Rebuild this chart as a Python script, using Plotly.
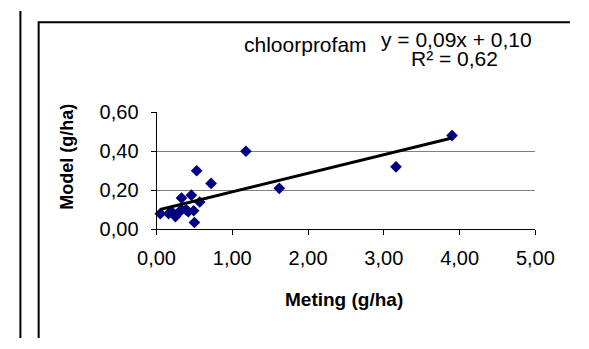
import plotly.graph_objects as go

W, H = 589, 349

# data
meting = [0.05, 0.16, 0.20, 0.25, 0.30, 0.33, 0.33, 0.39, 0.42, 0.46, 0.49, 0.50, 0.53, 0.57, 0.72, 1.18, 1.62, 3.16, 3.90]
model = [0.08, 0.08, 0.09, 0.065, 0.09, 0.10, 0.16, 0.10, 0.09, 0.175, 0.095, 0.035, 0.30, 0.14, 0.235, 0.40, 0.21, 0.32, 0.48]
trend_slope = 0.095
trend_intercept = 0.097
x_ticks = [0, 1, 2, 3, 4, 5]
x_ticklabels = ["0,00", "1,00", "2,00", "3,00", "4,00", "5,00"]
y_ticks = [0, 0.2, 0.4, 0.6]
y_ticklabels = ["0,00", "0,20", "0,40", "0,60"]

FONT = "Liberation Sans, Arial, sans-serif"

def px(x):
    return x / W

def py(y):
    return 1 - y / H

fig = go.Figure()
fig.add_trace(go.Scatter(
    x=meting, y=model, mode="markers",
    marker=dict(symbol="diamond", size=9, color="#000080", line=dict(width=0)),
    cliponaxis=False, showlegend=False,
))
tx = [min(meting), max(meting)]
fig.add_trace(go.Scatter(
    x=tx, y=[trend_slope * v + trend_intercept for v in tx], mode="lines",
    line=dict(color="black", width=3), cliponaxis=False, showlegend=False,
))

fig.update_layout(
    width=W, height=H, margin=dict(l=0, r=0, t=0, b=0),
    paper_bgcolor="white", plot_bgcolor="white",
    font=dict(family=FONT, size=20, color="black"),
    xaxis=dict(
        domain=[px(147), px(552)], range=[0, 5], tickvals=x_ticks, ticktext=x_ticklabels,
        showgrid=False, zeroline=False, showline=True, linecolor="black", linewidth=1,
        ticks="outside", ticklen=5, tickcolor="black", tickwidth=1,
        tickfont=dict(size=20), ticklabelstandoff=6,
    ),
    yaxis=dict(
        domain=[py(233), py(108)], range=[0, 0.6], tickvals=y_ticks, ticktext=y_ticklabels,
        showgrid=True, gridcolor="#808080", gridwidth=1, zeroline=False,
        showline=True, linecolor="black", linewidth=1,
        ticks="outside", ticklen=5, tickcolor="black", tickwidth=1,
        tickfont=dict(size=20), ticklabelstandoff=8,
    ),
    annotations=[
        dict(text="<b>Model (g/ha)</b>", x=px(52), y=py(156), xref="paper", yref="paper",
             textangle=-90, showarrow=False, font=dict(size=18), xanchor="center", yanchor="middle"),
        dict(text="<b>Meting (g/ha)</b>", x=px(347), y=py(308), xref="paper", yref="paper",
             showarrow=False, font=dict(size=19), xanchor="center", yanchor="middle"),
        dict(text="chloorprofam", x=px(306), y=py(36), xref="paper", yref="paper",
             showarrow=False, font=dict(size=21), xanchor="center", yanchor="middle"),
        dict(text="y = 0,09x + 0,10", x=px(468), y=py(30), xref="paper", yref="paper",
             showarrow=False, font=dict(size=21), xanchor="center", yanchor="middle"),
        dict(text="R² = 0,62", x=px(465), y=py(51), xref="paper", yref="paper",
             showarrow=False, font=dict(size=21), xanchor="center", yanchor="middle"),
    ],
    shapes=[
        dict(type="line", xref="paper", yref="paper", x0=px(1.5), x1=px(1.5), y0=0, y1=1,
             line=dict(color="black", width=2)),
        dict(type="path", xref="paper", yref="paper",
             path=f"M {px(21)} 0 L {px(21)} {py(12)} L 1 {py(12)}",
             line=dict(color="black", width=2)),
    ],
)

fig.write_html("out.html")
